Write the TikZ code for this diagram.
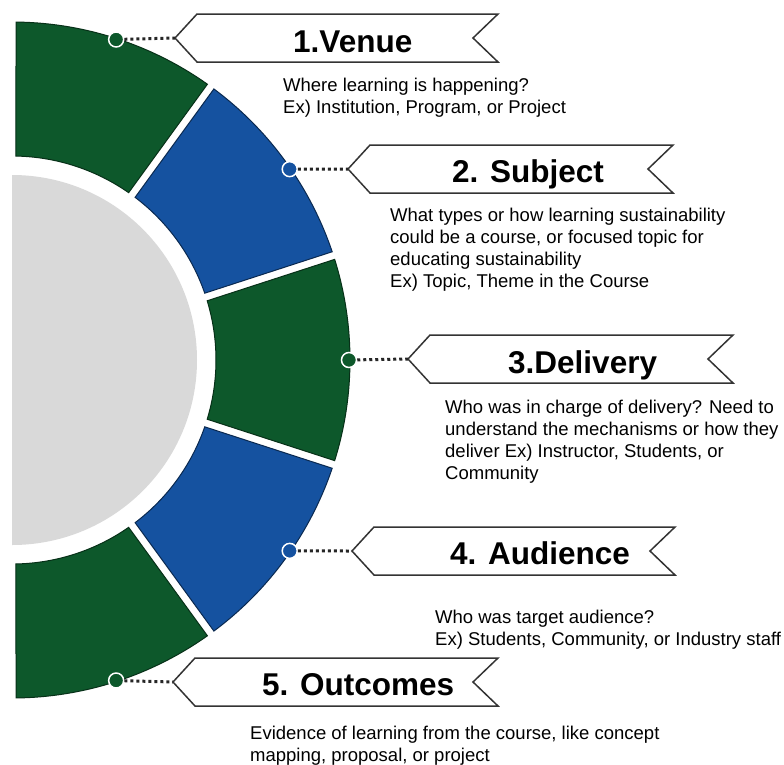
\documentclass[tikz,border=0pt]{standalone}
\usepackage{fontspec}
\setmainfont{Liberation Sans}
\definecolor{ringgreen}{RGB}{13,88,43}
\definecolor{ringblue}{RGB}{21,82,160}
\definecolor{ringgray}{RGB}{217,217,217}
% banner: left tip x, right x, centre y
\newcommand\drawbanner[3]{%
  \draw[banner] (#1,#3) -- ++(22,-24) -- (#2,#3-24) -- (#2-25,#3)
    -- (#2,#3+24) -- (#1+22,#3+24) -- cycle;}
\begin{document}
\begin{tikzpicture}[x=1pt,y=-1pt,
  seg/.style={line width=1pt,line join=miter},
  greenseg/.style={seg,fill=ringgreen,draw=ringgreen!55!black},
  blueseg/.style={seg,fill=ringblue,draw=ringblue!50!black},
  ringdot/.style={circle,draw=white,line width=1.5pt,minimum size=15pt,inner sep=0pt},
  dots/.style={line width=3pt,dash pattern=on 3pt off 3pt,draw=black!85},
  banner/.style={draw=black!80,line width=1.5pt,fill=white,line join=miter},
  bannertitle/.style={font=\bfseries\fontsize{31.5}{36}\selectfont,anchor=base west,inner sep=0pt},
  descr/.style={font=\fontsize{18.5}{21.7}\selectfont,anchor=base west,align=left,inner sep=0pt}
]
\useasboundingbox[fill=white] (0,0) rectangle (784,764);

% ring of five segments around a grey half disk
\begin{scope}[shift={(12,360)}]
  \fill[ringgray] (90:185) arc[start angle=90,end angle=-90,radius=185] -- cycle;
  \foreach \k/\sty in {0/greenseg,1/blueseg,2/greenseg,3/blueseg,4/greenseg}{
    \pgfmathsetmacro\oA{36*\k-90+0.68}
    \pgfmathsetmacro\oB{36*\k-54-0.68}
    \pgfmathsetmacro\iA{36*\k-90+1.12}
    \pgfmathsetmacro\iB{36*\k-54-1.12}
    \draw[\sty] (\oA:338) arc[start angle=\oA,end angle=\oB,radius=338]
      -- (\iB:204) arc[start angle=\iB,end angle=\iA,radius=204] -- cycle;
  }
  \node[ringdot,fill=ringgreen] (m1) at (-72:337) {};
  \node[ringdot,fill=ringblue]  (m2) at (-34.5:337) {};
  \node[ringdot,fill=ringgreen] (m3) at (0:337) {};
  \node[ringdot,fill=ringblue]  (m4) at (34.5:337) {};
  \node[ringdot,fill=ringgreen] (m5) at (72:337) {};
\end{scope}

% banners
\drawbanner{175}{498}{38}
\drawbanner{348}{673}{169}
\drawbanner{408}{733}{359}
\drawbanner{352}{675}{551}
\drawbanner{173}{498}{682}
\coordinate (b1) at (175,38);
\coordinate (b2) at (348,169);
\coordinate (b3) at (408,359);
\coordinate (b4) at (352,551);
\coordinate (b5) at (173,682);

% dotted leaders
\draw[dots] (m1) -- (b1);
\draw[dots] (m2) -- (b2);
\draw[dots] (m3) -- (b3);
\draw[dots] (m4) -- (b4);
\draw[dots] (m5) -- (b5);

% titles
\node[bannertitle] (t1) at (293,52) {1.Venue};
\node[bannertitle] (t2) at (452,182) {2. Subject};
\node[bannertitle] (t3) at (508,373) {3.Delivery};
\node[bannertitle] (t4) at (450,564) {4. Audience};
\node[bannertitle] (t5) at (262,695) {5. Outcomes};

% descriptions (positioned by the baseline of their last line)
\node[descr] (d1) at (283,113.5) {Where learning is happening?\\Ex) Institution, Program, or Project};
\node[descr] (d2) at (390,287) {What types or how learning sustainability\\could be a course, or focused topic for\\educating sustainability\\Ex) Topic, Theme in the Course};
\node[descr] (d3) at (445,479) {Who was in charge of delivery? Need to\\understand the mechanisms or how they\\deliver Ex) Instructor, Students, or\\Community};
\node[descr] (d4) at (435,645.5) {Who was target audience?\\Ex) Students, Community, or Industry staff};
\node[descr] (d5) at (250,761.5) {Evidence of learning from the course, like concept\\mapping, proposal, or project};
\end{tikzpicture}
\end{document}
